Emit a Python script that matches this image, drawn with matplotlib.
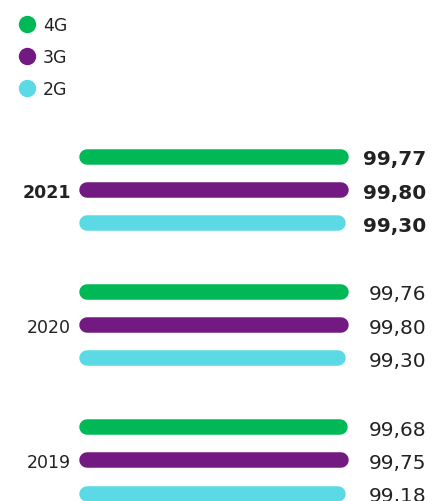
import matplotlib
matplotlib.use('Agg')
from matplotlib import pyplot as plt
from matplotlib.lines import Line2D
import matplotlib.transforms as mtransforms

# data
years = ['2021', '2020', '2019']
series = ['4G', '3G', '2G']
values = {
    '2021': [99.77, 99.80, 99.30],
    '2020': [99.76, 99.80, 99.30],
    '2019': [99.68, 99.75, 99.18],
}
highlight = '2021'

colors = ['#00b956', '#731982', '#5bdae5']
text_color = '#222222'

W, H = 434, 502
fig = plt.figure(figsize=(W / 100, H / 100), dpi=100)
ax = fig.add_axes([0, 0, 1, 1])
ax.axis('off')

# x scale: 5 px per unit, bar base at 49 (drawn at px 87)
base = 49
px_per_unit = 5
ax.set_xlim(base - 87 / px_per_unit, base + (W - 87) / px_per_unit)

# y: one row = 33.3 px, group gap = 4.06 rows, first row at px 157.7
row_px = 33.3
group_gap = 4.06
top = 157.7
ax.set_ylim((H - top) / row_px, -top / row_px)

bar_lw = 15.5 * 72 / 100
lab_tr = mtransforms.blended_transform_factory(ax.transAxes, ax.transData)

for g, yr in enumerate(years):
    bold = yr == highlight
    for s, v in enumerate(values[yr]):
        y = g * group_gap + s
        ax.plot([base, v], [y, y], color=colors[s], lw=bar_lw,
                solid_capstyle='round')
        ax.text(426 / W, y, '{:.2f}'.format(v).replace('.', ','),
                transform=lab_tr, ha='right', va='center_baseline',
                fontsize=14.5, color=text_color,
                fontweight='heavy' if bold else 'normal')
    ax.text(71 / W, g * group_gap + 1, yr, transform=lab_tr,
            ha='right', va='center_baseline', fontsize=12.5, color=text_color,
            fontweight='heavy' if bold else 'normal')

handles = [Line2D([], [], marker='o', linestyle='none', markersize=11.5,
                  markerfacecolor=c, markeredgecolor=c) for c in colors]
leg = fig.legend(handles, series, loc='upper left',
                 bbox_to_anchor=(10 / W, 1 - 10 / H), frameon=False,
                 fontsize=12.5, labelspacing=0.8, handletextpad=0.3,
                 handlelength=1.2, borderaxespad=0)
for t in leg.get_texts():
    t.set_color(text_color)

fig.savefig('out.png', dpi=100)
